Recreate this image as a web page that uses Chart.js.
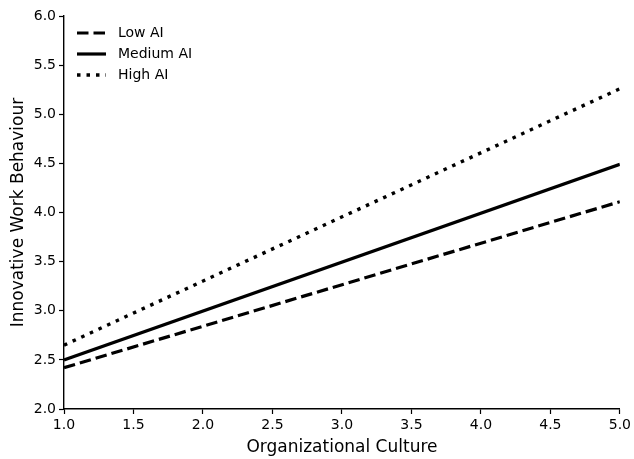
<!DOCTYPE html>
<html>
<head>
<meta charset="utf-8">
<script src="https://cdn.jsdelivr.net/npm/chart.js@4.4.1/dist/chart.umd.min.js"></script>
<style>
  html, body { margin: 0; padding: 0; background: #fff; }
  #wrap { width: 634px; height: 459px; }
</style>
</head>
<body>
<div id="wrap"><canvas id="myChart" width="634" height="459"></canvas></div>
<script>
// values (lines are straight, so the two ends are enough)
const cultureX = [1.0, 5.0];
const lowAI = [2.42, 4.11];
const mediumAI = [2.50, 4.49];
const highAI = [2.65, 5.26];
const xTicks = [1.0, 1.5, 2.0, 2.5, 3.0, 3.5, 4.0, 4.5, 5.0];
const yTicks = [2.0, 2.5, 3.0, 3.5, 4.0, 4.5, 5.0, 5.5, 6.0];

const FONT = "'DejaVu Sans', sans-serif";
Chart.defaults.font.family = FONT;
Chart.defaults.color = '#000';

const toPts = (ys) => cultureX.map((x, i) => ({ x: x, y: ys[i] }));

// legend drawn inside the plot, top-left, no frame
const insideLegend = {
  id: 'insideLegend',
  afterDraw(chart) {
    const c = chart.ctx;
    const a = chart.chartArea;
    c.save();
    c.font = '14px ' + FONT;
    c.textBaseline = 'middle';
    chart.data.datasets.forEach((ds, i) => {
      const y = a.top + 17 + i * 21;
      c.beginPath();
      c.setLineDash(ds.borderDash || []);
      c.lineWidth = ds.borderWidth;
      c.lineCap = 'butt';
      c.strokeStyle = ds.borderColor;
      c.moveTo(a.left + 13, y);
      c.lineTo(a.left + 42, y);
      c.stroke();
      c.setLineDash([]);
      c.fillStyle = '#000';
      c.fillText(ds.label, a.left + 54, y);
    });
    c.restore();
  }
};

new Chart(document.getElementById('myChart'), {
  type: 'scatter',
  data: {
    datasets: [
      { label: 'Low AI', data: toPts(lowAI), showLine: true, borderColor: '#000', borderWidth: 3.2, borderDash: [11.5, 5], pointRadius: 0 },
      { label: 'Medium AI', data: toPts(mediumAI), showLine: true, borderColor: '#000', borderWidth: 3.2, pointRadius: 0 },
      { label: 'High AI', data: toPts(highAI), showLine: true, borderColor: '#000', borderWidth: 3.4, borderDash: [3.5, 6], pointRadius: 0 }
    ]
  },
  options: {
    responsive: false,
    animation: false,
    layout: { padding: { left: 0, right: 12, top: 16, bottom: 0 } },
    plugins: { legend: { display: false }, tooltip: { enabled: false } },
    scales: {
      x: {
        type: 'linear', min: 1, max: 5,
        afterBuildTicks: (s) => { s.ticks = xTicks.map(v => ({ value: v })); },
        afterFit: (s) => { s.height = 50; },
        ticks: { font: { size: 14 }, color: '#000', padding: 3, maxRotation: 0, callback: (v) => v.toFixed(1) },
        grid: { drawOnChartArea: false, drawTicks: true, tickLength: 5, tickColor: '#000', tickWidth: 1.2 },
        border: { display: true, color: '#000', width: 1.4 },
        title: { display: true, text: 'Organizational Culture', font: { size: 17 }, color: '#000', padding: { top: 2, bottom: 1 } }
      },
      y: {
        type: 'linear', min: 2, max: 6,
        afterBuildTicks: (s) => { s.ticks = yTicks.map(v => ({ value: v })); },
        afterFit: (s) => { s.width = 64; },
        ticks: { font: { size: 14 }, color: '#000', padding: 3, callback: (v) => v.toFixed(1) },
        grid: { drawOnChartArea: false, drawTicks: true, tickLength: 5, tickColor: '#000', tickWidth: 1.2 },
        border: { display: true, color: '#000', width: 1.4 },
        title: { display: true, text: 'Innovative Work Behaviour', font: { size: 17 }, color: '#000', padding: { top: 8, bottom: 0 } }
      }
    }
  },
  plugins: [insideLegend]
});
</script>
</body>
</html>
